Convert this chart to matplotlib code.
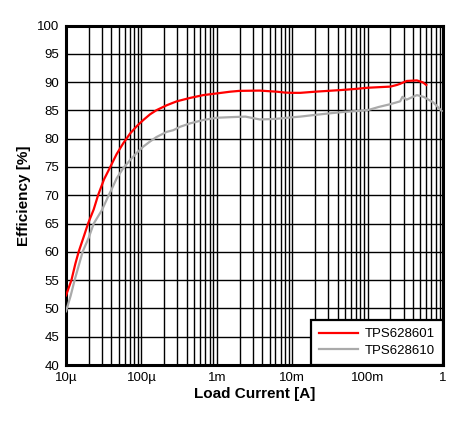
import matplotlib
matplotlib.use("Agg")
import matplotlib.pyplot as plt
from matplotlib.ticker import FixedLocator, LogLocator, NullFormatter

plt.rcParams['font.family'] = ['Liberation Sans', 'DejaVu Sans']

# load current [A] and efficiency [%]
i_601 = [1e-5, 1.18e-5, 1.33e-5, 1.47e-5, 1.72e-5, 1.96e-5, 2.33e-5, 2.66e-5,
         3.19e-5, 3.83e-5, 4.7e-5, 5.75e-5, 7.06e-5, 8.66e-5, 1.06e-4,
         1.3e-4, 1.59e-4, 2.16e-4, 2.94e-4, 4.41e-4, 6.61e-4, 1e-3, 1.5e-3,
         2e-3, 3.7e-3, 6.3e-3, 8e-3, 1e-2, 1.28e-2, 2e-2, 3e-2, 4.5e-2, 7e-2,
         1e-1, 1.4e-1, 2e-1, 2.45e-1, 2.7e-1, 3.3e-1, 4.5e-1, 5.4e-1, 6e-1]
eff_601 = [52.3, 55.0, 57.9, 60.0, 62.7, 65.0, 67.5, 70.0,
           72.8, 74.9, 77.3, 79.2, 80.9, 82.2, 83.3,
           84.3, 85.05, 85.9, 86.6, 87.2, 87.7, 88.0, 88.3,
           88.45, 88.5, 88.3, 88.15, 88.1, 88.1, 88.3, 88.45, 88.6, 88.8,
           89.0, 89.1, 89.2, 89.5, 89.7, 90.2, 90.3, 89.95, 89.5]

i_610 = [1e-5, 1.15e-5, 1.3e-5, 1.66e-5, 2e-5, 2.33e-5, 3e-5, 3.68e-5,
         3.98e-5, 4.7e-5, 5.75e-5, 7.06e-5, 8.66e-5, 1.06e-4, 1.3e-4, 1.59e-4,
         2.16e-4, 2.65e-4, 3.25e-4, 4.41e-4, 6.61e-4, 1e-3, 1.5e-3, 2.4e-3,
         3.7e-3, 5e-3, 6e-3, 9.4e-3, 1.28e-2, 2e-2, 3e-2, 5e-2, 7.5e-2,
         1.04e-1, 1.4e-1, 2e-1, 2.7e-1, 2.9e-1, 3.3e-1, 4.5e-1, 5.5e-1,
         7.45e-1, 9.6e-1]
eff_610 = [49.5, 52.2, 55.0, 60.0, 62.5, 65.0, 67.4, 70.0,
           70.9, 73.0, 74.8, 76.2, 77.5, 78.6, 79.5, 80.3,
           81.2, 81.5, 82.1, 82.7, 83.3, 83.7, 83.8, 83.9,
           83.4, 83.45, 83.5, 83.75, 83.9, 84.2, 84.45, 84.75, 84.9,
           85.1, 85.6, 86.1, 86.6, 87.4, 86.9, 87.7, 87.4,
           86.4, 84.9]

x_ticks = [1e-5, 1e-4, 1e-3, 1e-2, 1e-1, 1]
x_labels = ['10\u00b5', '100\u00b5', '1m', '10m', '100m', '1']
y_ticks = list(range(40, 101, 5))

fig = plt.figure(figsize=(4.62, 4.21), dpi=100)
ax = fig.add_axes([0.1429, 0.133, 0.816, 0.8064])

ax.plot(i_601, eff_601, color='#ff0000', linewidth=1.6, label='TPS628601', zorder=3)
ax.plot(i_610, eff_610, color='#aaaaaa', linewidth=1.6, label='TPS628610', zorder=3)

ax.set_xscale('log')
ax.set_xlim(1e-5, 1)
ax.set_ylim(40, 100)
ax.xaxis.set_major_locator(FixedLocator(x_ticks))
ax.set_xticklabels(x_labels)
ax.xaxis.set_minor_locator(LogLocator(base=10, subs=range(2, 10), numticks=20))
ax.xaxis.set_minor_formatter(NullFormatter())
ax.set_yticks(y_ticks)

ax.grid(which='major', color='black', linewidth=1.0)
ax.grid(which='minor', axis='x', color='black', linewidth=1.0)
ax.tick_params(which='both', length=0, labelsize=9.5, pad=5)
for s in ax.spines.values():
    s.set_linewidth(2.2)

ax.set_xlabel('Load Current [A]', fontsize=11, fontweight='bold', labelpad=2)
ax.set_ylabel('Efficiency [%]', fontsize=11, fontweight='bold', labelpad=4)

leg = ax.legend(loc='lower right', bbox_to_anchor=(1.0, 0.0), fontsize=9.5,
                fancybox=False, framealpha=1, edgecolor='black',
                borderaxespad=0, handlelength=3.0, handletextpad=0.5,
                labelspacing=0.35, borderpad=0.6)
leg.get_frame().set_linewidth(1.6)

fig.savefig('out.png', dpi=100)
